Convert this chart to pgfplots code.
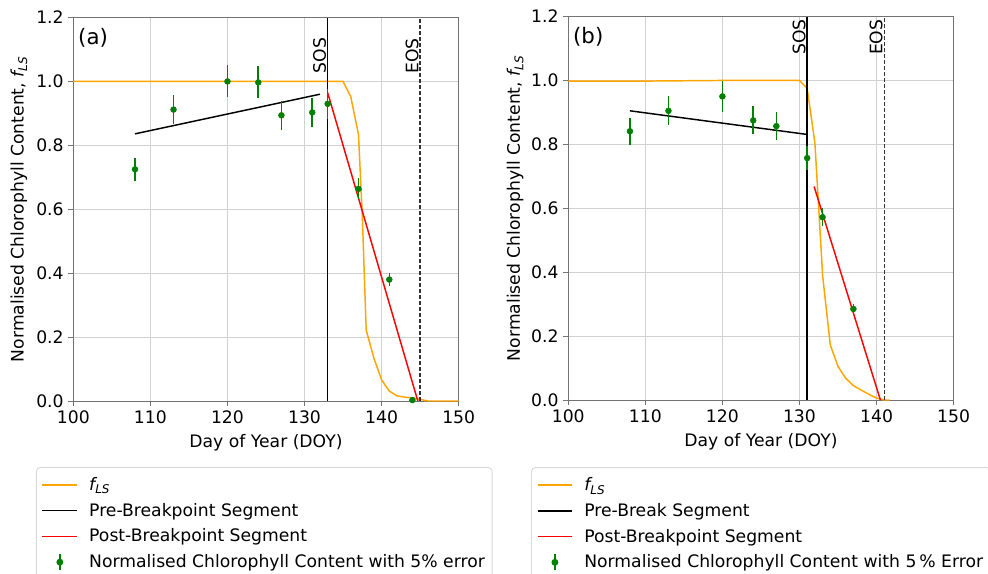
\documentclass[border=0pt]{standalone}
\usepackage{fontspec}
\setmainfont{DejaVu Sans}
\usepackage{pgfplots}
\pgfplotsset{compat=1.18}
\definecolor{mplorange}{RGB}{255,165,0}
\definecolor{mplgreen}{RGB}{0,128,0}
\definecolor{mplred}{RGB}{255,0,0}
\newcommand{\fLS}{{\itshape f\textsubscript{LS}}}
\newcommand{\fnt}{\fontsize{12.9}{15}\selectfont}

\pgfplotsset{
  panel/.style={
    scale only axis, width=289pt, height=287.6pt,
    xmin=100, xmax=150, ymin=0, ymax=1.2,
    xtick={100,110,120,130,140,150},
    ytick={0,0.2,0.4,0.6,0.8,1.0,1.2},
    yticklabel style={/pgf/number format/.cd, fixed, fixed zerofill, precision=1},
    /pgf/number format/assume math mode=true,
    tick label style={font=\fnt},
    label style={font=\fnt},
    grid=major, major grid style={black!18, line width=0.6pt},
    axis line style={black!55, line width=0.7pt},
    tick style={black!55, line width=0.7pt},
    tick align=outside, major tick length=3.75pt, tick pos=left,
    xlabel={Day of Year (DOY)},
    ylabel={Normalised Chlorophyll Content, \fLS},
    xlabel style={at={(axis description cs:0.5,-0.11)}, anchor=center},
    ylabel style={at={(axis description cs:-0.141,0.5)}, anchor=center},
    legend cell align=left,
    legend image code/.code={\draw[##1] (0pt,0pt) -- (26pt,0pt);
      \path (0pt,0pt) (33pt,0pt);},
    legend style={anchor=north west, draw=black!15, rounded corners=3pt,
      fill=white, line width=0.7pt, font=\fnt,
      inner xsep=4pt, inner ysep=6pt, row sep=5pt,
      nodes={inner sep=1.5pt}},
    clip=false,
  },
  errlegend/.style={legend image code/.code={
    \draw[mplgreen, line width=1.2pt] (13pt,-6pt) -- (13pt,6pt);
    \fill[mplgreen] (13pt,0pt) circle (2.2pt);
    \path (0pt,0pt) (33pt,0pt);}},
  ptstyle/.style={only marks, mark=*, mark size=2.2pt, color=mplgreen,
    error bars/.cd, y dir=both, y explicit, error mark=none,
    error bar style={line width=1.2pt, mplgreen}},
}

\begin{document}
\begin{tikzpicture}[font=\fnt]
% ---------------- panel (a)
\begin{axis}[panel, at={(55pt,129.75pt)}, anchor=south west,
  legend style={at={(axis description cs:-0.097,-0.172)}}]
\addplot[mplorange, line width=1.1pt] coordinates {
  (100,1) (135,1) (136,0.952) (137,0.834) (137.5,0.578) (138,0.222) (139,0.134)
  (140,0.066) (141,0.031) (142,0.016) (143,0.012) (144,0.010) (145,0.005)
  (146,0) (150,0)};
\addlegendentry{\fLS}
\addplot[black, line width=1.1pt] coordinates {(108,0.836) (132,0.960)};
\addlegendentry{Pre-Breakpoint Segment}
\addplot[mplred, line width=1.1pt] coordinates {(133,0.965) (144.7,0)};
\addlegendentry{Post-Breakpoint Segment}
\addplot[black, line width=1.1pt, forget plot] coordinates {(133,0) (133,1.2)};
\addplot[black!80, line width=1.1pt, dash pattern=on 3pt off 1.5pt, forget plot]
  coordinates {(145,0) (145,1.2)};
\addplot[errlegend, ptstyle] coordinates {
  (108,0.725) +- (0,0.036)
  (113,0.912) +- (0,0.046)
  (120,1.000) +- (0,0.050)
  (124,0.997) +- (0,0.050)
  (127,0.894) +- (0,0.045)
  (131,0.903) +- (0,0.045)
  (133,0.930) +- (0,0.047)
  (137,0.664) +- (0,0.033)
  (141,0.380) +- (0,0.019)
  (144,0.003) +- (0,0.000)};
\addlegendentry{Normalised Chlorophyll Content with 5\% error}
\node[rotate=90, anchor=south west, inner sep=1pt] at (axis cs:133,1.02) {SOS};
\node[rotate=90, anchor=south west, inner sep=1pt] at (axis cs:145,1.02) {EOS};
\node[anchor=north west, inner sep=0pt, font=\fontsize{16}{18}\selectfont]
  at (rel axis cs:0.012,0.973) {(a)};
\end{axis}
% ---------------- panel (b)
\begin{axis}[panel, at={(426.2pt,130.5pt)}, anchor=south west,
  ylabel style={at={(axis description cs:-0.138,0.5)}},
  legend style={at={(axis description cs:-0.0966,-0.175)}}]
\addplot[mplorange, line width=1.1pt] coordinates {
  (100,0.998) (110,0.998) (120,1.0) (130,1.0) (131,0.975) (132,0.805)
  (132.5,0.600) (133,0.390) (134,0.172) (135,0.105) (136,0.068) (137,0.045)
  (138,0.031) (139,0.018) (140,0.006) (141,0) (141.7,0)};
\addlegendentry{\fLS}
\addplot[black, line width=1.1pt] coordinates {(108,0.905) (131,0.831)};
\addlegendentry{Pre-Break Segment}
\addplot[mplred, line width=1.1pt] coordinates {(131.9,0.668) (140.5,0)};
\addlegendentry{Post-Breakpoint Segment}
\addplot[black, line width=1.1pt, forget plot] coordinates {(131,0) (131,1.2)};
\addplot[black!80, line width=1.1pt, dash pattern=on 3pt off 1.5pt, forget plot]
  coordinates {(141,0) (141,1.2)};
\addplot[errlegend, ptstyle] coordinates {
  (108,0.841) +- (0,0.042)
  (113,0.905) +- (0,0.045)
  (120,0.950) +- (0,0.048)
  (124,0.875) +- (0,0.044)
  (127,0.857) +- (0,0.043)
  (131,0.757) +- (0,0.038)
  (133,0.572) +- (0,0.029)
  (137,0.285) +- (0,0.014)};
\addlegendentry{Normalised Chlorophyll Content with 5\,\% Error}
\node[rotate=90, anchor=south west, inner sep=1pt] at (axis cs:131,1.075) {SOS};
\node[rotate=90, anchor=south west, inner sep=1pt] at (axis cs:141,1.075) {EOS};
\node[anchor=north west, inner sep=0pt, font=\fontsize{16}{18}\selectfont]
  at (rel axis cs:0.012,0.973) {(b)};
\end{axis}
\pgfresetboundingbox
\useasboundingbox (0,0) rectangle (741pt,430.5pt);
\end{tikzpicture}
\end{document}
